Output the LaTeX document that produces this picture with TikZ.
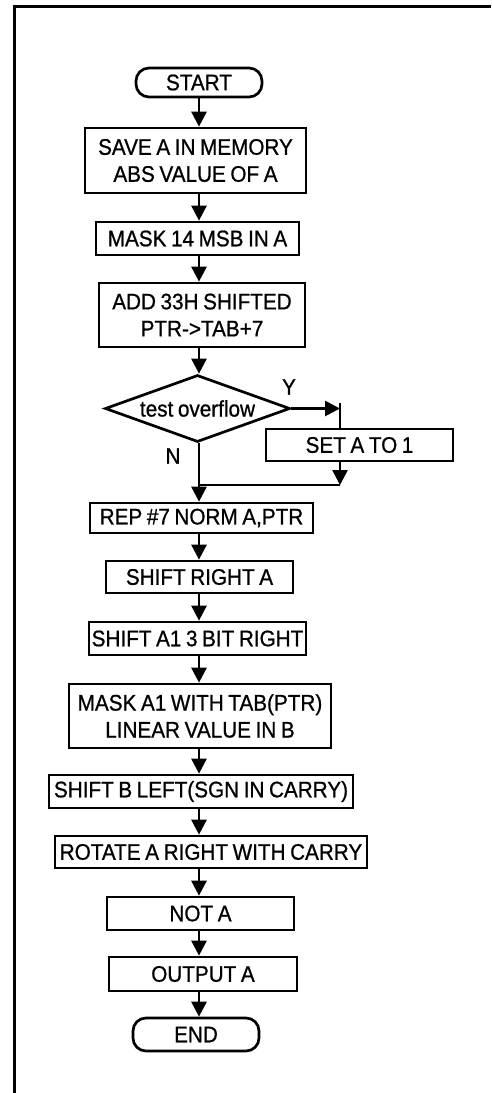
\documentclass[tikz,border=0pt]{standalone}
\usepackage{fontspec}
\setmainfont{Liberation Sans}[FakeStretch=0.92,FakeBold=0.8,WordSpace=0.8]
\usetikzlibrary{shapes.geometric,arrows.meta}
\begin{document}
\begin{tikzpicture}[x=1pt,y=-1pt,
  box/.style={draw, line width=2.7pt, inner sep=1pt, align=center, font=\fontsize{22.5}{27}\selectfont},
  term/.style={box, rounded corners=13pt},
  arr/.style={line width=2.7pt, -{Triangle[length=15pt,width=15pt]}},
  ln/.style={line width=2.7pt},
  lbl/.style={font=\fontsize{22.5}{27}\selectfont, inner sep=0pt}]
\useasboundingbox (0,0) rectangle (491,1093);
\draw[line width=3pt] (491,6) -- (14,6) -- (14,1093);
\coordinate (axis) at (199,0);

\node[term, minimum width=126pt, minimum height=29pt] (start) at (199,82.5) {START};
\node[box, minimum width=221pt, minimum height=65pt] (b1) at (195.5,160.5) {SAVE A IN MEMORY\\ABS VALUE OF A};
\node[box, minimum width=203pt, minimum height=33pt] (b2) at (197.5,238.5) {MASK 14 MSB IN A};
\node[box, minimum width=206pt, minimum height=64pt] (b3) at (202,315) {ADD 33H SHIFTED\\PTR->TAB+7};
\node[draw, diamond, line width=2.7pt, aspect=2.76, minimum width=185pt, minimum height=67pt, inner sep=0pt, font=\fontsize{22.5}{27}\selectfont] (test) at (197.5,408.5) {test overflow};
\node[box, minimum width=187pt, minimum height=32pt] (set) at (359.5,445) {SET A TO 1};
\node[box, minimum width=223pt, minimum height=30pt] (rep) at (201.5,518) {REP \#7 NORM A,PTR};
\node[box, minimum width=187pt, minimum height=32pt] (sr) at (199.5,577) {SHIFT RIGHT A};
\node[box, minimum width=217pt, minimum height=33pt] (sa) at (197.5,638.5) {SHIFT A1 3 BIT RIGHT};
\node[box, minimum width=262pt, minimum height=64pt] (mask) at (200,716) {MASK A1 WITH TAB(PTR)\\LINEAR VALUE IN B};
\node[box, minimum width=304pt, minimum height=33pt] (sb) at (201,791.5) {SHIFT B LEFT(SGN IN CARRY)};
\node[box, minimum width=312pt, minimum height=32pt] (rot) at (211,852) {ROTATE A RIGHT WITH CARRY};
\node[box, minimum width=187pt, minimum height=33pt] (nota) at (200.5,913.5) {NOT A};
\node[box, minimum width=188pt, minimum height=34pt] (out) at (203,974) {OUTPUT A};
\node[term, minimum width=126pt, minimum height=33pt] (end) at (196,1034.5) {END};

\node[lbl] (ylab) at (289,387) {Y};
\node[lbl] (nlab) at (173,456) {N};

\draw[arr] (start.south -| axis) -- (b1.north -| axis);
\draw[arr] (b1.south -| axis) -- (b2.north -| axis);
\draw[arr] (b2.south -| axis) -- (b3.north -| axis);
\draw[arr] (b3.south -| axis) -- (test.north -| axis);
\draw[arr] (test.south -| axis) -- (rep.north -| axis);
\draw[arr] (rep.south -| axis) -- (sr.north -| axis);
\draw[arr] (sr.south -| axis) -- (sa.north -| axis);
\draw[arr] (sa.south -| axis) -- (mask.north -| axis);
\draw[arr] (mask.south -| axis) -- (sb.north -| axis);
\draw[arr] (sb.south -| axis) -- (rot.north -| axis);
\draw[arr] (rot.south -| axis) -- (nota.north -| axis);
\draw[arr] (nota.south -| axis) -- (out.north -| axis);
\draw[arr] (out.south -| axis) -- (end.north -| axis);

\coordinate (yc) at (340,408.5);
\coordinate (ytop) at (340,403);
\coordinate (jr) at (340,485);
\coordinate (jl) at (199,485);
\draw[arr] (test.east) -- (yc);
\draw[ln] (ytop) -- (ytop |- set.north);
\draw[arr] (jr |- set.south) -- (jr);
\draw[ln] (jr) -- (jl);
\end{tikzpicture}
\end{document}
